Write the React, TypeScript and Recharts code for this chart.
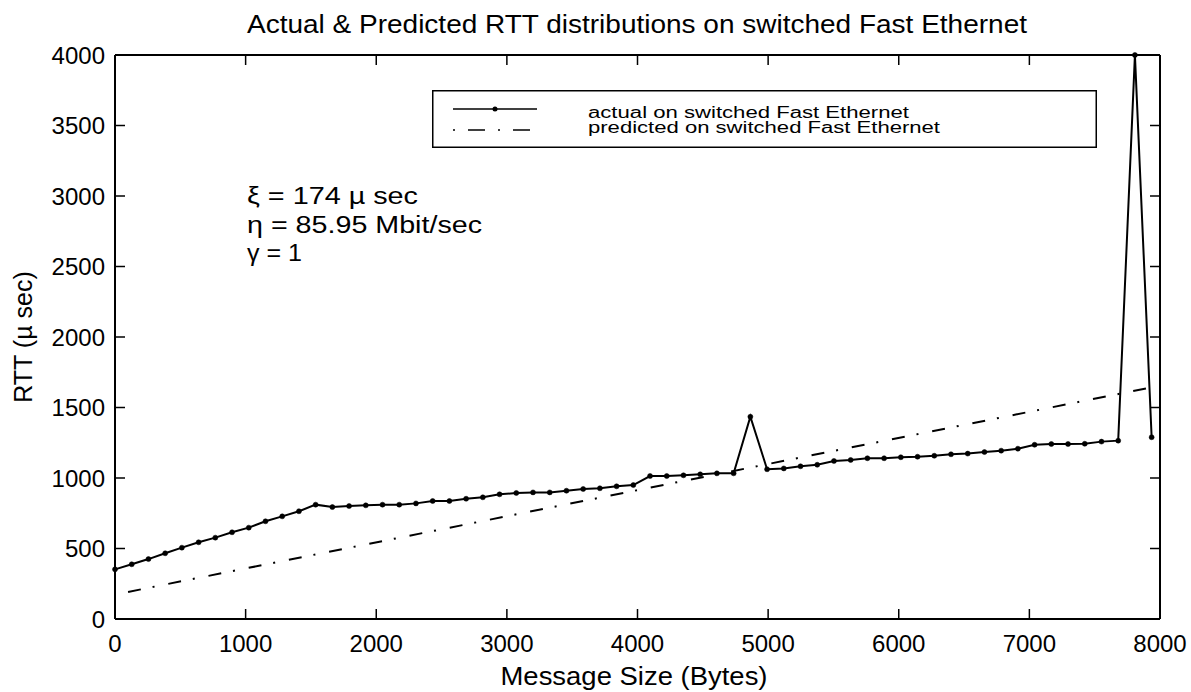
import { LineChart, Line, XAxis, YAxis, Legend } from 'recharts'

// message sizes (bytes) of the measured series
const messageSizes = [
  0, 128, 256, 384, 512, 640, 768, 896, 1024, 1152, 1280, 1408, 1536, 1664, 1792, 1920,
  2048, 2176, 2304, 2432, 2560, 2688, 2816, 2944, 3072, 3200, 3328, 3456, 3584, 3712, 3840, 3968,
  4096, 4224, 4352, 4480, 4608, 4736, 4864, 4992, 5120, 5248, 5376, 5504, 5632, 5760, 5888, 6016,
  6144, 6272, 6400, 6528, 6656, 6784, 6912, 7040, 7168, 7296, 7424, 7552, 7680, 7808, 7936,
]

// measured RTT (µs)
const actualRtt = [
  352, 388, 425, 466, 506, 544, 577, 615, 648, 693, 728, 764, 811, 794, 801, 806,
  811, 811, 820, 837, 837, 853, 863, 884, 894, 898, 898, 910, 922, 927, 941, 950,
  1014, 1014, 1019, 1026, 1033, 1033, 1435, 1062, 1068, 1083, 1094, 1121, 1128, 1140, 1140, 1147,
  1151, 1158, 1168, 1173, 1184, 1194, 1208, 1236, 1241, 1241, 1243, 1258, 1265, 4000, 1289,
]

// predicted RTT (µs), straight line read at its two ends
const predictedSizes = [100, 7900]
const predictedRtt = [192, 1636]

const xTicks = [0, 1000, 2000, 3000, 4000, 5000, 6000, 7000, 8000]
const yTicks = [0, 500, 1000, 1500, 2000, 2500, 3000, 3500, 4000]

const seriesNames = ['actual on switched Fast Ethernet', 'predicted on switched Fast Ethernet']

const actualData = messageSizes.map((size, i) => ({ size, rtt: actualRtt[i] }))
const predictedData = predictedSizes.map((size, i) => ({ size, rtt: predictedRtt[i] }))

const FONT = '"Liberation Sans", Arial, Helvetica, sans-serif'
const DASH_DOT = '13 12 2 14'
const PLOT_H = 564
const TICK_LEN = 10
const X_GAP = 16
const Y_GAP = 10
const axisLine = { stroke: '#000', strokeWidth: 2 }
const tickLine = { stroke: '#000', strokeWidth: 1.5 }

// bottom labels plus inward ticks on the bottom and top edges
function XTick(props: any) {
  const { x, y, payload } = props
  const base = y - X_GAP
  return (
    <g>
      <line x1={x} x2={x} y1={base} y2={base - TICK_LEN} stroke="#000" strokeWidth={1.5} />
      <line x1={x} x2={x} y1={base - PLOT_H} y2={base - PLOT_H + TICK_LEN} stroke="#000" strokeWidth={1.5} />
      <text x={x} y={y} dy="0.71em" textAnchor="middle" fill="#000" fontSize={24} fontFamily={FONT}>
        {payload.value}
      </text>
    </g>
  )
}

// left labels plus inward ticks on the left edge
function YTick(props: any) {
  const { x, y, payload } = props
  const base = x + Y_GAP
  return (
    <g>
      <line x1={base} x2={base + TICK_LEN} y1={y} y2={y} stroke="#000" strokeWidth={1.5} />
      <text x={x} y={y} dy="0.355em" textAnchor="end" fill="#000" fontSize={24} fontFamily={FONT}>
        {payload.value}
      </text>
    </g>
  )
}

const NoLabel = () => <g />

function LegendBox() {
  return (
    <svg width={665} height={58} style={{ display: 'block' }}>
      <rect x={0.75} y={0.75} width={663.5} height={56.5} fill="#fff" stroke="#000" strokeWidth={1.5} />
      <line x1={21} x2={105} y1={19} y2={19} stroke="#000" strokeWidth={1.5} />
      <circle cx={63} cy={19} r={2.5} fill="#000" />
      <line x1={21} x2={105} y1={40} y2={40} stroke="#000" strokeWidth={1.5} strokeDasharray="2 13 17 13" />
      <text x={156} y={28} fontSize={16} fontFamily={FONT} textLength={321} lengthAdjust="spacingAndGlyphs">
        {seriesNames[0]}
      </text>
      <text x={156} y={43} fontSize={16} fontFamily={FONT} textLength={352} lengthAdjust="spacingAndGlyphs">
        {seriesNames[1]}
      </text>
    </svg>
  )
}

export default function App() {
  return (
    <div style={{ position: 'absolute', left: 0, top: 0, width: 1191, height: 692, background: '#fff' }}>
      <LineChart width={1191} height={692} margin={{ top: 55, right: 31, bottom: 13, left: 35 }}>
        <XAxis
          dataKey="size"
          type="number"
          domain={[0, 8000]}
          ticks={xTicks}
          height={60}
          axisLine={axisLine}
          tickLine={false}
          tickSize={0}
          tickMargin={X_GAP}
          tick={<XTick />}
        />
        <XAxis
          xAxisId="top"
          orientation="top"
          type="number"
          domain={[0, 8000]}
          allowDataOverflow
          ticks={xTicks}
          mirror
          axisLine={axisLine}
          tickLine={false}
          tick={<NoLabel />}
        />
        <YAxis
          type="number"
          domain={[0, 4000]}
          ticks={yTicks}
          width={80}
          axisLine={axisLine}
          tickLine={false}
          tickSize={0}
          tickMargin={Y_GAP}
          tick={<YTick />}
        />
        <YAxis
          yAxisId="right"
          orientation="right"
          type="number"
          domain={[0, 4000]}
          allowDataOverflow
          ticks={yTicks}
          mirror
          axisLine={axisLine}
          tickLine={tickLine}
          tickSize={TICK_LEN}
          tick={<NoLabel />}
        />
        <Legend
          verticalAlign="middle"
          align="center"
          content={() => <LegendBox />}
          wrapperStyle={{ left: 432, top: 90, width: 665, height: 58 }}
        />
        <Line
          data={predictedData}
          dataKey="rtt"
          name={seriesNames[1]}
          type="linear"
          stroke="#000"
          strokeWidth={2}
          strokeDasharray={DASH_DOT}
          dot={false}
          activeDot={false}
          isAnimationActive={false}
        />
        <Line
          data={actualData}
          dataKey="rtt"
          name={seriesNames[0]}
          type="linear"
          stroke="#000"
          strokeWidth={2}
          dot={{ r: 2.5, fill: '#000', stroke: '#000', strokeWidth: 0.5 }}
          activeDot={false}
          isAnimationActive={false}
        />
      </LineChart>
      <svg
        width={1191}
        height={692}
        style={{ position: 'absolute', left: 0, top: 0, pointerEvents: 'none' }}
        fontFamily={FONT}
      >
        <text x={637} y={33} fontSize={25} textAnchor="middle" textLength={780} lengthAdjust="spacingAndGlyphs">
          Actual &amp; Predicted RTT distributions on switched Fast Ethernet
        </text>
        <text x={634} y={685} fontSize={25} textAnchor="middle" textLength={267} lengthAdjust="spacingAndGlyphs">
          Message Size (Bytes)
        </text>
        <text transform="translate(32,337) rotate(-90)" fontSize={25} textAnchor="middle">
          RTT (µ sec)
        </text>
        <text x={247} y={204} fontSize={23} textLength={171} lengthAdjust="spacingAndGlyphs">
          ξ = 174 µ sec
        </text>
        <text x={247} y={233} fontSize={23} textLength={235} lengthAdjust="spacingAndGlyphs">
          η = 85.95 Mbit/sec
        </text>
        <text x={247} y={261} fontSize={23} textLength={55} lengthAdjust="spacingAndGlyphs">
          γ = 1
        </text>
      </svg>
    </div>
  )
}
